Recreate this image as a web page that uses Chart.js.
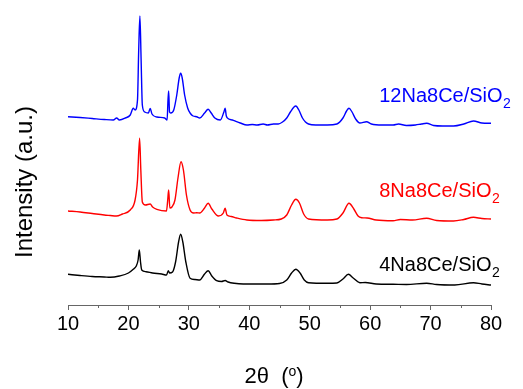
<!DOCTYPE html>
<html>
<head>
<meta charset="utf-8">
<title>XRD patterns</title>
<script src="https://cdn.jsdelivr.net/npm/chart.js@4.4.1/dist/chart.umd.min.js"></script>
<style>
    body { margin: 0; background: #fff; }
    #wrap { width: 523px; height: 389px; }
</style>
</head>
<body>
<div id="wrap"><canvas id="chart" width="523" height="389"></canvas></div>
<script>
// 2θ positions (deg) and intensity (a.u., stacked with offsets) for each sample
const theta12 = [10, 12, 14, 16, 17.5, 18.05, 18.5, 19.5, 20.3, 20.8, 21.1, 21.5, 21.7, 21.9, 22.1, 22.3, 22.7, 23.3, 23.6, 23.9, 24.7, 26.0, 26.4, 26.55, 26.66, 26.8, 27.0, 27.5, 28.0, 28.4, 28.64, 28.9, 29.3, 29.8, 30.2, 30.7, 31.3, 31.8, 32.6, 33.2, 33.7, 34.3, 35.2, 35.8, 36.0, 36.2, 36.6, 37.2, 37.9, 38.5, 39.6, 40.5, 41.3, 42.3, 43, 44, 44.8, 45.5, 46.2, 46.8, 47.4, 47.7, 48.2, 48.8, 49.3, 49.8, 51, 52.9, 54.5, 55.5, 56.1, 56.5, 57.0, 57.6, 58.3, 59.4, 60.2, 62, 63.8, 64.7, 66, 67.5, 68.5, 69.35, 70.5, 72, 73.8, 75.5, 77.1, 78.5, 80];
const int12 = [188.3, 187.5, 186.5, 185.5, 185, 187, 185, 187, 190, 196.7, 195, 205, 255, 289, 245, 200, 193, 192, 196.5, 191, 188, 187, 185, 205, 214, 193, 192, 195, 210, 227, 231.7, 227, 210, 197, 192, 189, 188.3, 187, 192, 195.7, 192, 187, 185, 193, 196.7, 189, 186, 185, 183.3, 182, 180, 180.5, 180, 181, 180, 181, 181, 183, 187, 193, 198, 199, 195, 187, 183, 181, 180, 180, 181, 187, 194, 196.7, 193, 186, 182, 183.3, 181, 180, 180, 181, 179.5, 180, 181, 181.7, 179.5, 179, 179, 181, 184, 182, 181.7];

const theta8 = [10, 12, 14, 16, 17, 18, 19, 20.3, 21.1, 21.5, 21.85, 22.05, 22.3, 22.8, 23.6, 24.0, 24.7, 26.3, 26.5, 26.66, 26.85, 27.2, 27.7, 28.2, 28.7, 29.1, 29.6, 30.2, 30.8, 31.3, 31.8, 32.6, 33.2, 33.8, 34.9, 35.7, 36.0, 36.3, 37, 37.9, 39.6, 42, 44, 45.3, 46.2, 47, 47.7, 48.3, 49, 49.8, 52.9, 54.5, 55.5, 56.5, 57.3, 58, 58.6, 59.5, 61, 63.8, 65, 67, 69.35, 71, 73.8, 75.5, 77.1, 78.5, 80];
const int8 = [94, 93, 91.5, 90, 89.5, 89, 91, 95, 105, 125, 166.7, 135, 103, 100, 101, 98, 95.7, 94, 105, 115, 97, 98, 105, 127, 143.3, 135, 110, 95, 92, 92.3, 92, 97, 101.7, 96, 89, 92, 96.7, 90, 88.5, 87, 85, 84.5, 85, 86, 90, 100, 105.7, 102, 91, 86, 85, 86, 92, 101.7, 96, 89, 87.3, 87, 85, 84.3, 85.5, 85, 86.7, 84.5, 84, 85.5, 87.7, 86.5, 86];

const theta4 = [10, 12, 14, 16, 17, 18.5, 20, 20.8, 21.3, 21.6, 21.8, 22.0, 22.2, 22.9, 24, 25.5, 26.3, 26.6, 26.8, 27.3, 27.8, 28.3, 28.64, 29.0, 29.5, 30.2, 31, 31.8, 32.6, 33.2, 33.8, 34.6, 35.4, 36.0, 36.5, 37.5, 39, 41, 43, 45, 46.2, 47.0, 47.7, 48.4, 49.1, 49.8, 52.9, 54.5, 55.5, 56.4, 57.2, 58.3, 59.2, 61, 63.8, 66, 69.35, 71, 74, 77.1, 78.5, 80];
const int4 = [30.7, 29.5, 28.5, 28, 27.7, 29, 32, 35.7, 39, 45, 55, 43, 35, 33.3, 32, 31, 30, 34.3, 32, 33, 43, 63, 70.7, 63, 43, 26.7, 25.5, 25, 31, 34.3, 29, 24.3, 23.5, 24.5, 23, 21.7, 21, 21, 21, 21.5, 25, 32, 35.7, 32, 25, 22.3, 21.7, 22, 26, 30.7, 27, 22.3, 22.5, 21, 20.7, 20.5, 21.8, 20.5, 20, 22.3, 21, 20];

const seriesNames = ['12Na8Ce/SiO', '8Na8Ce/SiO', '4Na8Ce/SiO'];
const seriesColors = ['#0000ff', '#ff0000', '#000000'];
const xTicks = [10, 20, 30, 40, 50, 60, 70, 80];

const FONT = "'Liberation Sans', Arial, sans-serif";

function toPoints(xs, ys) {
    return xs.map((x, i) => ({ x: x, y: ys[i] }));
}

// labels next to each pattern, axis titles and minor ticks
const textPlugin = {
    id: 'xrdText',
    afterDraw(chart) {
        const ctx = chart.ctx;
        const xs = chart.scales.x;
        const ys = chart.scales.y;
        const axisY = chart.chartArea.bottom;

        ctx.save();
        // minor ticks halfway between the majors
        ctx.strokeStyle = '#666';
        ctx.lineWidth = 1;
        for (let v = 15; v < 80; v += 10) {
            const px = Math.round(xs.getPixelForValue(v)) + 0.5;
            ctx.beginPath();
            ctx.moveTo(px, axisY);
            ctx.lineTo(px, axisY + 3);
            ctx.stroke();
        }

        // sample names with the subscript 2
        const baseVal = [ys.getValueForPixel(101.7), ys.getValueForPixel(196.7), ys.getValueForPixel(270.5)];
        seriesNames.forEach((name, i) => {
            const x0 = xs.getPixelForValue(61.5);
            const y0 = ys.getPixelForValue(baseVal[i]);
            ctx.fillStyle = seriesColors[i];
            ctx.textBaseline = 'alphabetic';
            ctx.textAlign = 'left';
            ctx.font = '20px ' + FONT;
            ctx.fillText(name, x0, y0);
            const w = ctx.measureText(name).width;
            ctx.font = '14px ' + FONT;
            ctx.fillText('2', x0 + w + 0.5, y0 + 6);
        });

        // y title
        ctx.fillStyle = '#000';
        ctx.font = '24px ' + FONT;
        ctx.translate(31.5, 182);
        ctx.rotate(-Math.PI / 2);
        ctx.textAlign = 'center';
        ctx.fillText('Intensity (a.u.)', 0, 0);
        ctx.restore();

        // x title: 2θ (°) with a raised o
        ctx.save();
        ctx.fillStyle = '#000';
        ctx.textBaseline = 'alphabetic';
        ctx.textAlign = 'left';
        const part1 = '2\u03b8  (';
        const part2 = 'o';
        const part3 = ')';
        ctx.font = '22px ' + FONT;
        const w1 = ctx.measureText(part1).width;
        const w3 = ctx.measureText(part3).width;
        ctx.font = '14px ' + FONT;
        const w2 = ctx.measureText(part2).width;
        let x = 274 - (w1 + w2 + w3) / 2;
        const base = 383;
        ctx.font = '22px ' + FONT;
        ctx.fillText(part1, x, base);
        x += w1;
        ctx.font = '14px ' + FONT;
        ctx.fillText(part2, x, base - 7);
        x += w2;
        ctx.font = '22px ' + FONT;
        ctx.fillText(part3, x, base);
        ctx.restore();
    }
};

const xrdData = {
    datasets: [
        { label: seriesNames[0], data: toPoints(theta12, int12), borderColor: seriesColors[0] },
        { label: seriesNames[1], data: toPoints(theta8, int8), borderColor: seriesColors[1] },
        { label: seriesNames[2], data: toPoints(theta4, int4), borderColor: seriesColors[2] }
    ].map(d => Object.assign(d, {
        borderWidth: 1.4,
        pointRadius: 0,
        fill: false,
        cubicInterpolationMode: 'monotone'
    }))
};

const config = {
    type: 'line',
    data: xrdData,
    options: {
        responsive: false,
        animation: false,
        layout: { padding: { top: 5, left: 68, right: 32, bottom: 0 } },
        plugins: {
            legend: { display: false },
            tooltip: { enabled: false }
        },
        scales: {
            x: {
                type: 'linear',
                min: 10,
                max: 80,
                afterFit: function(scale) { scale.height = 84; },
                afterBuildTicks: function(scale) {
                    scale.ticks = xTicks.map(v => ({ value: v }));
                },
                border: { display: true, color: '#666', width: 1 },
                grid: { display: true, drawOnChartArea: false, drawTicks: true, tickLength: 5, color: '#666' },
                ticks: {
                    autoSkip: false,
                    maxRotation: 0,
                    padding: 2,
                    color: '#000',
                    font: { family: FONT, size: 20 }
                }
            },
            y: {
                display: false,
                min: 0,
                max: 300
            }
        }
    },
    plugins: [textPlugin]
};

const ctx = document.getElementById('chart').getContext('2d');
new Chart(ctx, config);
</script>
</body>
</html>
